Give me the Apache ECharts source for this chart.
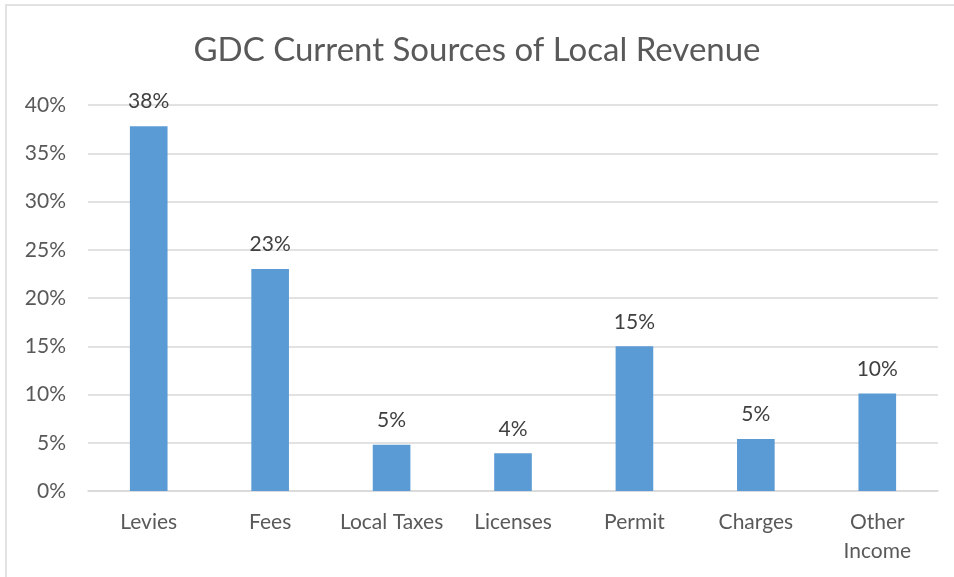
<!DOCTYPE html>
<html><head><meta charset="utf-8">
<script src="https://cdn.jsdelivr.net/npm/echarts@6/dist/echarts.min.js"></script>
<style>html,body{margin:0;padding:0;background:#fff}#c{width:954px;height:577px}</style>
</head><body><div id="c"></div>
<script>
const categories = ['Levies','Fees','Local Taxes','Licenses','Permit','Charges','Other\nIncome'];
const values = [37.8, 23.0, 4.8, 3.9, 15.0, 5.4, 10.1];
const yTicks = [0,5,10,15,20,25,30,35,40];

const FONT = 'Lato, "Open Sans", sans-serif';
const chart = echarts.init(document.getElementById('c'));
chart.setOption({
  animation:false,
  backgroundColor:'#fff',
  graphic:[{type:'rect',shape:{x:6,y:5,width:960,height:600},style:{fill:'none',stroke:'#d9d9d9',lineWidth:1.5}}],
  title:{text:'GDC Current Sources of Local Revenue',left:'center',top:29,
    textStyle:{fontFamily:FONT,fontSize:33,fontWeight:'normal',color:'#595959'}},
  grid:{left:88,right:16,top:105,bottom:86},
  xAxis:{type:'category',data:categories,
    axisLine:{lineStyle:{color:'#d9d9d9',width:1.5}},axisTick:{show:false},
    axisLabel:{fontFamily:FONT,fontSize:21,color:'#595959',margin:17,lineHeight:29,interval:0}},
  yAxis:{type:'value',min:yTicks[0],max:yTicks[yTicks.length-1],interval:5,
    axisLine:{show:false},axisTick:{show:false},
    splitLine:{lineStyle:{color:'#d9d9d9',width:1.5}},
    axisLabel:{fontFamily:FONT,fontSize:21,color:'#595959',margin:22,formatter:'{value}%'}},
  series:[{type:'bar',data:values,barWidth:'31%',
    itemStyle:{color:'#5b9bd5'},
    label:{show:true,position:'top',distance:14,fontFamily:FONT,fontSize:21,color:'#404040',
      formatter:p=>Math.round(p.value)+'%'}}]
});
</script></body></html>
